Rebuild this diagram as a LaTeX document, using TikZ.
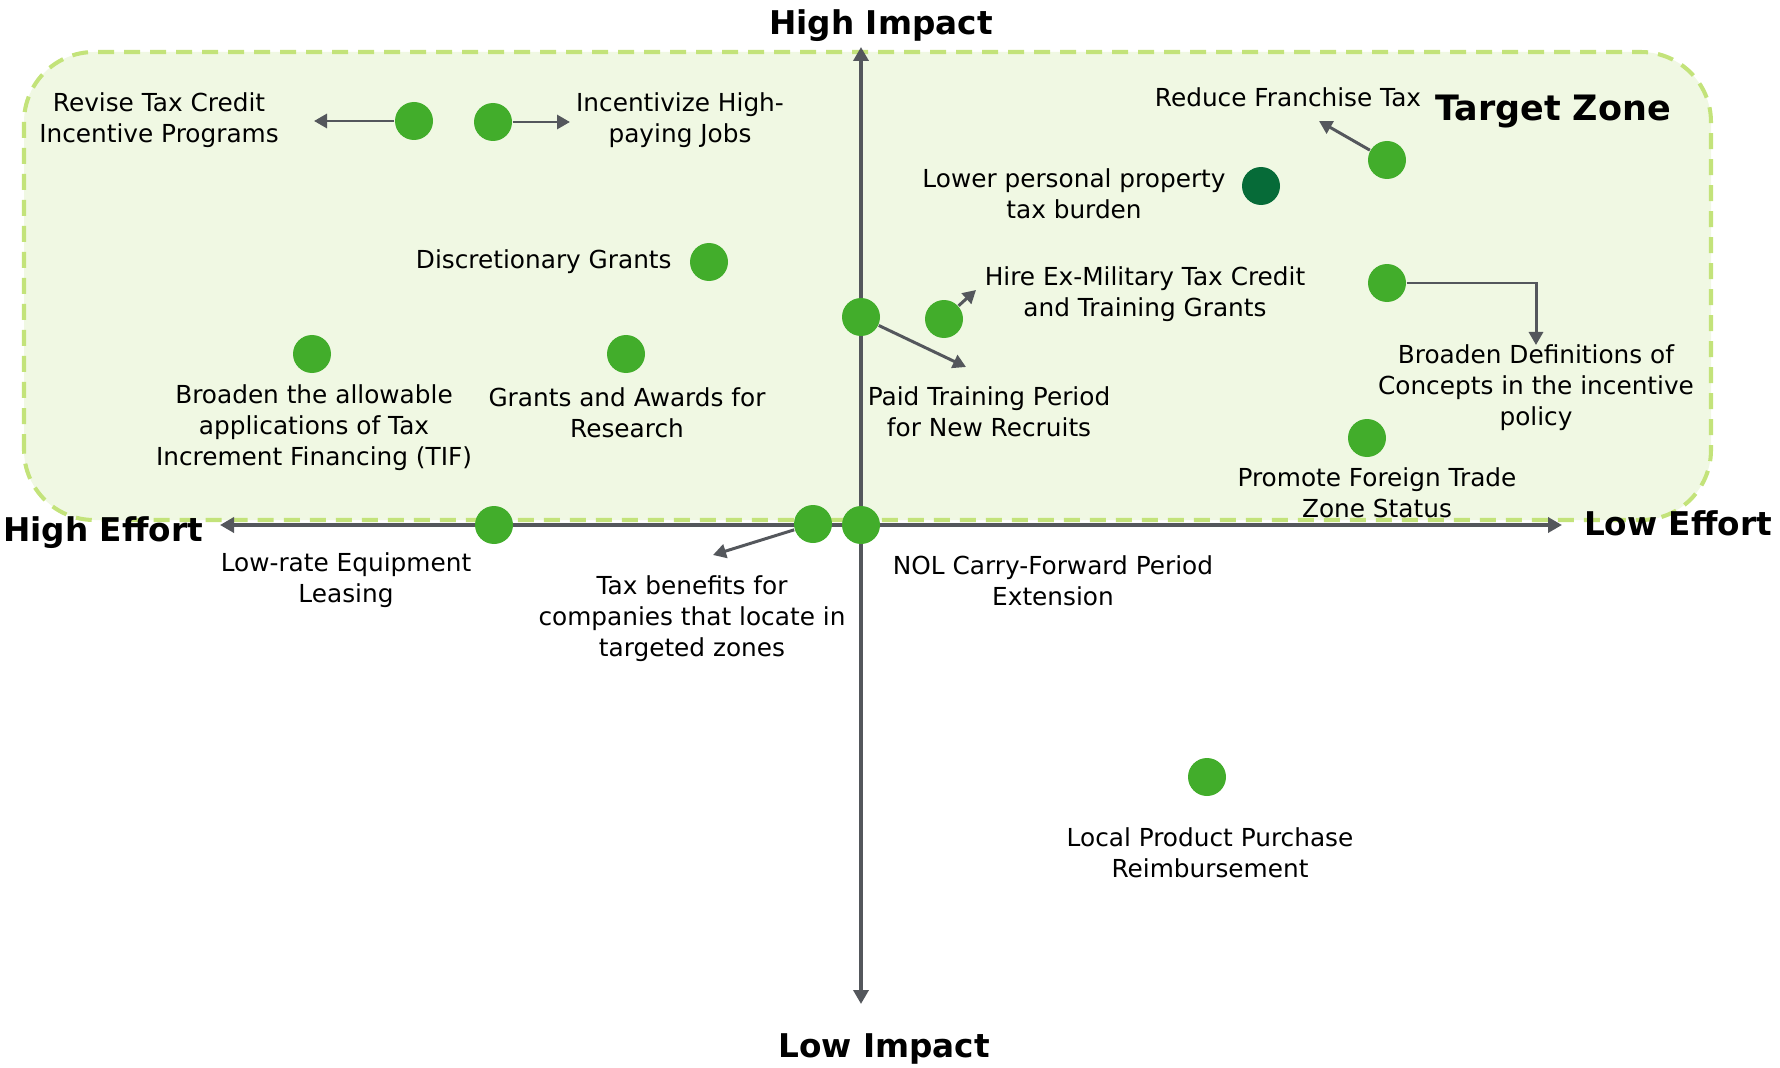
\documentclass[tikz,border=0pt]{standalone}
\usepackage{fontspec}
\setmainfont{DejaVu Sans}
\usetikzlibrary{arrows.meta, positioning, calc}
\definecolor{zfill}{HTML}{F0F8E3}
\definecolor{zedge}{HTML}{C3E37A}
\definecolor{pgreen}{HTML}{42AD2B}
\definecolor{pdark}{HTML}{066B38}
\definecolor{agrey}{HTML}{54575C}

\begin{document}
\begin{tikzpicture}

\tikzstyle{zone} = [draw=zedge, fill=zfill, line width=1.15pt, dash pattern=on 0.16cm off 0.1cm, rounded corners=0.7cm]
\tikzstyle{pt} = [circle, fill=pgreen, minimum size=0.38cm, inner sep=0pt]
\tikzstyle{txt} = [align=center, inner sep=0pt, font=\fontsize{7.05}{8.8}\selectfont]
\tikzstyle{axlabel} = [inner sep=0pt, font=\fontsize{9.3}{11}\selectfont\bfseries]
\tikzstyle{axis} = [{Triangle[length=0.14cm, width=0.15cm]}-{Triangle[length=0.14cm, width=0.15cm]}, agrey, line width=1.1pt]
\tikzstyle{pointer} = [-{Triangle[length=0.13cm, width=0.14cm]}, agrey, line width=0.85pt]

\useasboundingbox (0,0) rectangle (17.80,10.67);

% Target zone
\draw[zone] (0.24,5.47) rectangle (17.11,10.15);
\node[axlabel, font=\fontsize{9.95}{12}\selectfont\bfseries] (target) at (15.53,9.55) {Target Zone};

% Axes
\coordinate (top) at (8.61,10.20);
\coordinate (bottom) at (8.61,0.63);
\coordinate (left) at (2.20,5.42);
\coordinate (right) at (15.62,5.42);
\draw[axis] (left) -- (right);
\draw[axis] (top) -- (bottom);
\node[axlabel] (himpact) at (8.81,10.41) {High Impact};
\node[axlabel] (limpact) at (8.84,0.18) {Low Impact};
\node[axlabel] (heffort) at (1.03,5.34) {High Effort};
\node[axlabel] (leffort) at (16.78,5.44) {Low Effort};

% Top left
\node[pt] (revise) at (4.14,9.46) {};
\node[pt] (jobs) at (4.93,9.45) {};
\node[pt] (discr) at (7.09,8.05) {};
\node[pt] (tif) at (3.12,7.13) {};
\node[pt] (grants) at (6.26,7.13) {};
\node[txt] (revisetxt) at (1.59,9.47) {Revise Tax Credit\\Incentive Programs};
\node[txt] (jobstxt) at (6.80,9.47) {Incentivize High-\\paying Jobs};
\node[txt, left=0.17cm of discr] (discrtxt) {Discretionary Grants};
\node[txt] (tiftxt) at (3.14,6.39) {Broaden the allowable\\applications of Tax\\Increment Financing (TIF)};
\node[txt] (grantstxt) at (6.27,6.54) {Grants and Awards for\\Research};
\coordinate (revisetip) at (3.14,9.46);
\coordinate (jobstip) at (5.70,9.45);
\draw[pointer] (revise.west) -- (revisetip);
\draw[pointer] (jobs.east) -- (jobstip);

% Top right
\node[pt] (paid) at (8.61,7.50) {};
\node[pt] (hire) at (9.44,7.48) {};
\node[pt, fill=pdark] (lower) at (12.61,8.81) {};
\node[pt] (franchise) at (13.87,9.07) {};
\node[pt] (defs) at (13.87,7.84) {};
\node[pt] (ftz) at (13.67,6.29) {};
\node[txt] (paidtxt) at (9.89,6.55) {Paid Training Period\\for New Recruits};
\node[txt] (hiretxt) at (11.45,7.725) {Hire Ex-Military Tax Credit\\and Training Grants};
\node[txt] (lowertxt) at (10.74,8.73) {Lower personal property\\tax burden};
\node[txt] (franchisetxt) at (12.88,9.70) {Reduce Franchise Tax};
\node[txt] (defstxt) at (15.36,6.79) {Broaden Definitions of\\Concepts in the incentive\\policy};
\node[txt] (ftztxt) at (13.77,5.74) {Promote Foreign Trade\\Zone Status};
\coordinate (paidtip) at (9.66,7.00);
\coordinate (hiretip) at (9.76,7.77);
\coordinate (franchisetip) at (13.19,9.46);
\coordinate (defstip) at (15.36,7.22);
\draw[pointer] (paid) -- (paidtip);
\draw[pointer] (hire) -- (hiretip);
\draw[pointer] (franchise) -- (franchisetip);
\draw[pointer] (defs.east) -| (defstip);

% On the axis and below
\node[pt] (leasing) at (4.94,5.42) {};
\node[pt] (zones) at (8.13,5.43) {};
\node[pt] (nol) at (8.61,5.42) {};
\node[pt] (local) at (12.07,2.90) {};
\node[txt] (leasingtxt) at (3.46,4.87) {Low-rate Equipment\\Leasing};
\node[txt] (zonestxt) at (6.92,4.48) {Tax benefits for\\companies that locate in\\targeted zones};
\node[txt] (noltxt) at (10.53,4.86) {NOL Carry-Forward Period\\Extension};
\node[txt] (localtxt) at (12.10,2.14) {Local Product Purchase\\Reimbursement};
\coordinate (zonestip) at (7.13,5.12);
\draw[pointer] (zones) -- (zonestip);

\end{tikzpicture}
\end{document}
